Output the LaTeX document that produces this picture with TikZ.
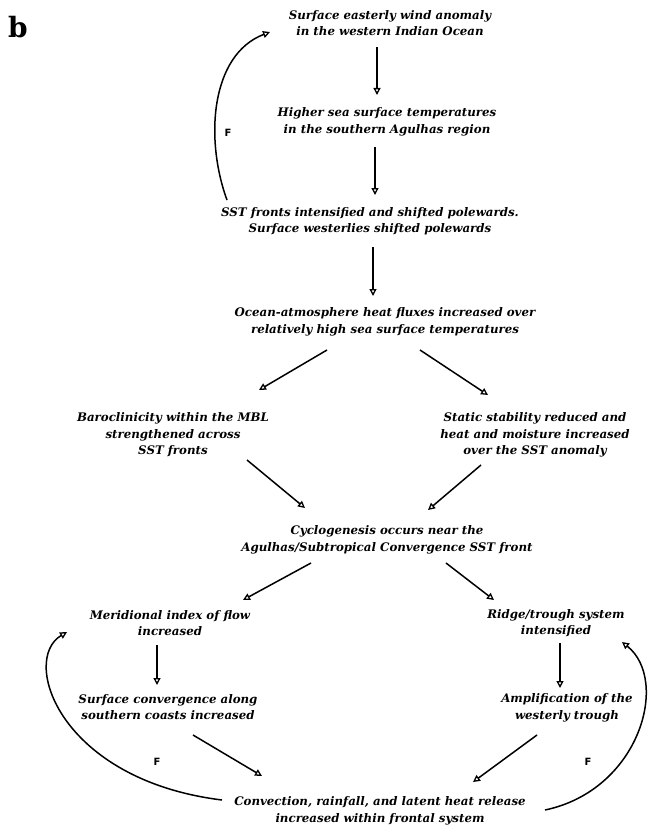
\documentclass[tikz,border=0pt]{standalone}
\usepackage{fontspec}
\setmainfont{DejaVu Serif}
\setsansfont{DejaVu Sans}
\usetikzlibrary{arrows.meta}
\begin{document}
\begin{tikzpicture}[x=1pt,y=-1pt,
  txt/.style={align=center,inner sep=0pt,font=\bfseries\itshape\fontsize{11.8}{16.5}\selectfont},
  arr/.style={line width=1.5pt,-{Triangle[open,length=7pt,width=7pt,line width=1.3pt]}},
  fb/.style={line width=1.5pt,-{Triangle[open,length=7pt,width=7pt,line width=1.3pt]}},
  flab/.style={inner sep=0pt,font=\sffamily\bfseries\fontsize{10}{12}\selectfont}]
\useasboundingbox (0,0) rectangle (649,832);
\fill[white] (0,0) rectangle (649,832);

\node[inner sep=0pt,font=\bfseries\fontsize{28}{30}\selectfont] (lab) at (18,27) {b};

\node[txt] (n1) at (390,23) {Surface easterly wind anomaly\\in the western Indian Ocean};
\node[txt] (n2) at (387,122) {Higher sea surface temperatures\\in the southern Agulhas region};
\node[txt] (n3) at (370,221) {SST fronts intensified and shifted polewards.\\Surface westerlies shifted polewards};
\node[txt] (n4) at (385,322) {Ocean-atmosphere heat fluxes increased over\\relatively high sea surface temperatures};
\node[txt] (n5L) at (173,435) {Baroclinicity within the MBL\\strengthened across\\SST fronts};
\node[txt] (n5R) at (535,435) {Static stability reduced and\\heat and moisture increased\\over the SST anomaly};
\node[txt] (n6) at (387,540) {Cyclogenesis occurs near the\\Agulhas/Subtropical Convergence SST front};
\node[txt] (n7L) at (170,623) {Meridional index of flow\\increased};
\node[txt] (n7R) at (556,623) {Ridge/trough system\\intensified};
\node[txt] (n8L) at (168,707) {Surface convergence along\\southern coasts increased};
\node[txt] (n8R) at (567,708) {Amplification of the\\westerly trough};
\node[txt] (n9) at (380,811) {Convection, rainfall, and latent heat release\\increased within frontal system};

\draw[arr] ([shift={(-13,24)}]n1.center) -- ([shift={(-10,-27)}]n2.center);
\draw[arr] ([shift={(-12,25)}]n2.center) -- ([shift={(5,-26)}]n3.center);
\draw[arr] ([shift={(3,26)}]n3.center) -- ([shift={(-12,-26)}]n4.center);
\draw[arr] ([shift={(-58,28)}]n4.center) -- ([shift={(86,-45)}]n5L.center);
\draw[arr] ([shift={(35,28)}]n4.center) -- ([shift={(-47,-40)}]n5R.center);
\draw[arr] ([shift={(74,25)}]n5L.center) -- ([shift={(-82,-32)}]n6.center);
\draw[arr] ([shift={(-54,30)}]n5R.center) -- ([shift={(41,-30)}]n6.center);
\draw[arr] ([shift={(-76,23)}]n6.center) -- ([shift={(73,-23)}]n7L.center);
\draw[arr] ([shift={(59,23)}]n6.center) -- ([shift={(-62,-23)}]n7R.center);
\draw[arr] ([shift={(-13,22)}]n7L.center) -- ([shift={(-11,-22)}]n8L.center);
\draw[arr] ([shift={(4,20)}]n7R.center) -- ([shift={(-7,-20)}]n8R.center);
\draw[arr] ([shift={(25,28)}]n8L.center) -- ([shift={(-118,-35)}]n9.center);
\draw[arr] ([shift={(-30,27)}]n8R.center) -- ([shift={(93,-29)}]n9.center);

\draw[fb] ([shift={(-143,-21)}]n3.center) .. controls (205,140) and (210,55) .. ([shift={(-120,9)}]n1.center);
\draw[fb] ([shift={(-158,-11)}]n9.center) .. controls (60,780) and (20,660) .. ([shift={(-103,9)}]n7L.center);
\draw[fb] ([shift={(165,-1)}]n9.center) .. controls (640,790) and (670,680) .. ([shift={(66,19)}]n7R.center);

\node[flab] (f1) at (228,133) {F};
\node[flab] (f2) at (157,762) {F};
\node[flab] (f3) at (588,762) {F};
\end{tikzpicture}
\end{document}
